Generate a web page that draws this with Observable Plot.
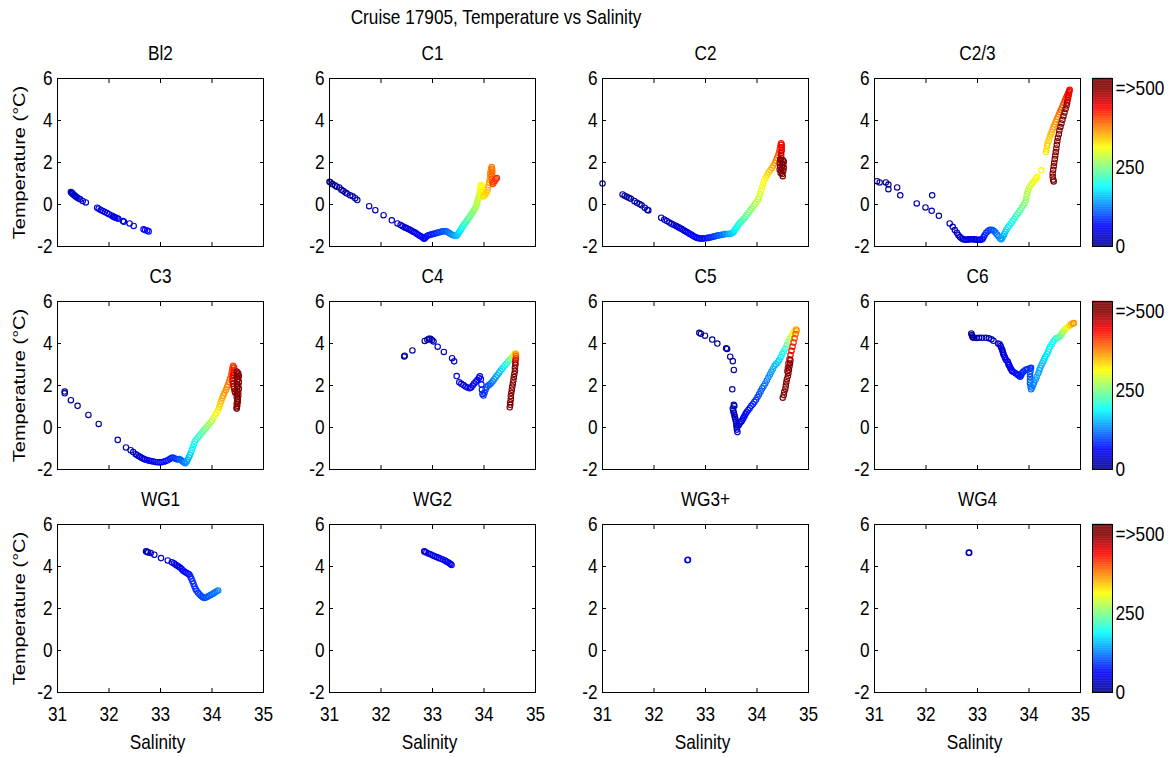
<!DOCTYPE html>
<html>
<head>
<meta charset="utf-8">
<script src="https://cdn.jsdelivr.net/npm/d3@7"></script>
<script src="https://cdn.jsdelivr.net/npm/@observablehq/plot@0.6"></script>
<style>
  html, body { margin: 0; padding: 0; background: #fff; }
  #chart { position: relative; width: 1173px; height: 757px; overflow: hidden; background: #fff;
           font-family: 'Liberation Sans', Arial, sans-serif; }
  #chart svg { position: absolute; overflow: visible; }
  #title { position: absolute; left: 0; top: 5px; width: 992px; text-align: center;
           font-size: 21px; line-height: 24px; color: #000; transform: scaleX(0.82); transform-origin: 496px 50%; }
</style>
</head>
<body>
<div id="chart"><div id="title">Cruise 17905, Temperature vs Salinity</div></div>
<script>
// ---------------- data: [salinity, temperature (°C), depth (m)] ----------------
const stations = ["Bl2", "C1", "C2", "C2/3", "C3", "C4", "C5", "C6", "WG1", "WG2", "WG3+", "WG4"];
const xTicks = [31, 32, 33, 34, 35];
const yTicks = [-2, 0, 2, 4, 6];
const depthTicks = [0, 250, 500];
const xLabel = "Salinity";
const yLabel = "Temperature (°C)";
const colorbarLabel = d => d === 500 ? "=>500" : String(d);

const bl2 = [[31.26,0.60,25],[31.27,0.57,26],[31.28,0.55,27],[31.29,0.52,28],[31.30,0.49,29],[31.32,0.45,30],[31.34,0.41,31],[31.36,0.37,32],[31.38,0.33,33],[31.41,0.29,34],[31.44,0.25,35],[31.49,0.17,36],[31.55,0.10,37],
 [31.77,-0.15,40],[31.80,-0.20,41],[31.84,-0.26,42],[31.88,-0.31,43],[31.92,-0.36,44],[31.96,-0.41,45],[32.00,-0.46,46],[32.05,-0.52,47],[32.08,-0.57,48],[32.10,-0.60,49],[32.12,-0.62,50],[32.15,-0.64,51],[32.18,-0.68,52],[32.27,-0.79,54],[32.29,-0.82,55],[32.40,-0.90,57],[32.48,-1.02,59],[32.67,-1.18,61],[32.70,-1.22,62],[32.74,-1.24,63],[32.77,-1.28,64]];

const c1 = [[31.00,1.08,2],[31.02,1.05,3],[31.06,0.97,4],[31.11,0.90,5],[31.14,0.85,6],[31.19,0.81,7],[31.23,0.70,8],[31.27,0.64,9],[31.31,0.57,10],[31.34,0.52,11],[31.40,0.44,12],[31.45,0.39,13],[31.50,0.30,14],[31.54,0.21,15],
 [31.77,-0.08,18],[31.89,-0.27,20],[32.05,-0.51,23],[32.21,-0.75,26],[32.32,-0.90,29],[32.38,-0.98,31],[32.42,-1.04,33],
 [32.46,-1.09,35],[32.49,-1.12,37],[32.52,-1.15,39],[32.55,-1.19,41],[32.58,-1.23,43],[32.61,-1.27,45],[32.64,-1.31,47],[32.67,-1.35,49],[32.70,-1.40,51],[32.73,-1.45,53],[32.76,-1.50,55],[32.79,-1.54,57],[32.82,-1.59,59],[32.84,-1.63,61],[32.86,-1.58,63],[32.88,-1.52,65],[32.91,-1.48,68],[32.94,-1.45,71],[32.97,-1.43,74],[33.00,-1.41,77],[33.03,-1.39,80],[33.06,-1.37,83],[33.09,-1.35,86],[33.12,-1.33,90],[33.15,-1.31,94],[33.18,-1.29,98],[33.21,-1.27,102],[33.24,-1.27,106],[33.27,-1.28,110],[33.30,-1.32,115],[33.33,-1.37,120],[33.36,-1.42,126],[33.39,-1.45,132],[33.42,-1.48,138],[33.45,-1.50,145],[33.47,-1.48,152],[33.49,-1.42,160],[33.51,-1.35,168],[33.53,-1.28,176],[33.55,-1.20,184],[33.57,-1.12,192],[33.59,-1.04,200],[33.61,-0.97,206],[33.63,-0.90,212],[33.65,-0.83,218],[33.67,-0.76,224],[33.69,-0.69,230],[33.71,-0.62,235],[33.73,-0.55,240],[33.75,-0.48,245],[33.77,-0.41,250],[33.79,-0.33,255],[33.81,-0.25,260],[33.83,-0.16,265],[33.85,-0.07,270],[33.86,0.02,274],[33.87,0.11,278],[33.88,0.20,282],[33.89,0.29,286],[33.90,0.38,290],
 [33.91,0.48,294],[33.92,0.58,298],[33.93,0.68,302],[33.93,0.78,305],[33.94,0.88,308],[33.95,0.93,310],[33.96,0.82,313],[33.97,0.70,316],[33.97,0.58,319],[33.98,0.46,322],[33.99,0.38,325],
 [34.01,0.42,328],[34.03,0.50,332],[34.05,0.58,336],[34.07,0.68,340],[34.08,0.80,345],[34.09,0.92,350],[34.10,1.05,354],[34.11,1.18,358],[34.12,1.32,362],[34.12,1.46,366],[34.13,1.58,370],[34.14,1.70,374],[34.15,1.78,378],[34.16,1.66,382],[34.16,1.52,386],[34.15,1.38,390],[34.15,1.22,394],[34.16,1.08,398],[34.17,0.98,402],[34.19,1.05,406],[34.21,1.12,410],[34.23,1.20,414],[34.25,1.26,418]];

const c2 = [[31.00,1.00,2],
 [31.39,0.48,6],[31.43,0.42,7],[31.47,0.37,8],[31.51,0.32,9],[31.55,0.27,10],[31.62,0.16,11],[31.67,0.08,12],[31.72,0.02,13],[31.76,-0.04,14],[31.82,-0.15,15],[31.87,-0.25,16],[31.89,-0.28,17],
 [32.14,-0.63,20],[32.20,-0.72,22],[32.25,-0.79,24],[32.30,-0.86,26],[32.34,-0.92,28],[32.38,-0.96,30],[32.42,-1.01,32],[32.45,-1.05,34],
 [32.48,-1.09,36],[32.51,-1.13,38],[32.54,-1.17,40],[32.57,-1.22,42],[32.60,-1.26,44],[32.63,-1.30,46],[32.66,-1.35,48],[32.69,-1.39,50],[32.72,-1.43,52],[32.75,-1.48,54],[32.78,-1.52,56],[32.81,-1.56,58],[32.84,-1.59,60],[32.87,-1.61,62],[32.90,-1.62,64],[32.93,-1.62,66],[32.96,-1.62,68],[32.99,-1.61,70],[33.02,-1.60,73],[33.05,-1.59,76],[33.08,-1.57,79],[33.11,-1.56,82],[33.14,-1.54,86],[33.17,-1.52,90],[33.20,-1.50,95],[33.23,-1.48,100],[33.26,-1.47,106],[33.29,-1.45,112],[33.32,-1.44,118],[33.35,-1.43,124],[33.38,-1.41,130],[33.41,-1.40,137],[33.44,-1.40,144],[33.47,-1.39,151],
 [33.50,-1.38,158],[33.53,-1.35,165],[33.55,-1.30,172],[33.57,-1.22,179],[33.59,-1.14,186],[33.61,-1.07,192],[33.63,-1.00,198],[33.65,-0.93,204],[33.67,-0.87,210],[33.69,-0.82,216],[33.72,-0.75,222],[33.75,-0.67,228],[33.78,-0.58,234],[33.81,-0.48,240],[33.84,-0.38,246],[33.87,-0.28,252],[33.90,-0.18,258],[33.93,-0.08,264],[33.96,0.02,270],[33.99,0.12,276],[34.02,0.24,282],[34.04,0.36,288],[34.06,0.50,294],[34.08,0.66,300],[34.10,0.82,305],[34.12,0.98,310],[34.14,1.14,315],[34.17,1.28,321],[34.20,1.42,327],[34.23,1.54,334],[34.26,1.64,341],[34.29,1.74,348],[34.32,1.86,356],[34.35,1.98,364],[34.37,2.10,372],[34.39,2.22,380],[34.41,2.35,388],[34.43,2.48,396],[34.44,2.60,404],[34.45,2.72,412],[34.46,2.84,420],[34.47,2.92,428],[34.48,2.85,436],[34.48,2.72,444],[34.48,2.58,452],[34.47,2.45,460],[34.47,2.32,468],
 [34.45,2.15,500],[34.47,2.10,505],[34.50,2.12,510],[34.52,2.05,515],[34.44,1.98,520],[34.48,1.95,525],[34.51,1.90,530],[34.45,1.80,535],[34.49,1.78,540],[34.52,1.75,545],[34.44,1.65,550],[34.47,1.62,555],[34.51,1.60,560],[34.46,1.50,565],[34.49,1.45,570],[34.50,1.35,575]];

const c23 = [[31.05,1.11,2],[31.10,1.05,3],[31.22,1.05,4],[31.27,0.95,5],[31.27,0.73,6],[31.44,0.81,7],[31.50,0.44,8],[31.82,0.05,10],[31.99,-0.14,12],[32.11,-0.30,14],[32.12,0.44,15],[32.25,-0.54,17],[32.46,-0.90,20],[32.52,-1.06,22],[32.56,-1.22,24],[32.60,-1.35,26],[32.63,-1.46,28],
 [32.66,-1.55,30],[32.69,-1.61,32],[32.72,-1.65,34],[32.75,-1.67,36],[32.78,-1.68,38],[32.81,-1.67,40],[32.84,-1.66,42],[32.87,-1.65,44],[32.90,-1.65,46],[32.93,-1.66,48],[32.96,-1.67,50],[32.99,-1.68,52],[33.02,-1.68,55],[33.05,-1.68,58],[33.08,-1.67,62],[33.10,-1.63,66],
 [33.12,-1.55,70],[33.14,-1.45,75],[33.17,-1.35,80],[33.20,-1.27,85],[33.23,-1.22,90],[33.26,-1.20,95],[33.29,-1.21,100],[33.32,-1.26,106],[33.35,-1.34,112],[33.38,-1.43,118],[33.41,-1.52,124],[33.44,-1.62,130],[33.46,-1.66,136],
 [33.48,-1.60,142],[33.50,-1.50,148],[33.52,-1.40,155],[33.54,-1.30,162],[33.56,-1.20,169],[33.59,-1.10,176],[33.62,-1.00,183],[33.65,-0.90,190],[33.68,-0.80,197],[33.71,-0.69,204],[33.74,-0.58,211],[33.77,-0.48,218],[33.80,-0.38,225],[33.83,-0.28,232],[33.86,-0.16,239],[33.89,-0.04,246],[33.92,0.08,253],[33.94,0.20,260],[33.95,0.35,266],[33.96,0.50,272],[33.98,0.64,278],[34.00,0.78,284],[34.03,0.90,290],[34.06,1.00,296],[34.09,1.10,301],[34.12,1.18,305],[34.14,1.25,308],[34.16,1.32,311],
 [34.24,1.63,318],
 [34.33,2.50,325],[34.34,2.62,328],[34.35,2.78,331],[34.36,2.90,334],[34.38,3.05,337],[34.40,3.20,340],[34.42,3.33,344],[34.44,3.45,348],[34.46,3.58,352],[34.48,3.70,356],[34.50,3.82,360],[34.52,3.94,364],[34.54,4.06,368],[34.56,4.17,372],[34.58,4.28,376],[34.60,4.39,380],[34.62,4.50,385],[34.64,4.61,390],[34.66,4.72,395],[34.68,4.84,400],[34.70,4.96,406],[34.72,5.08,412],[34.74,5.19,418],[34.76,5.30,424],[34.78,5.40,430],[34.79,5.46,436],[34.78,5.35,442],[34.77,5.22,448],[34.76,5.10,455],[34.75,4.98,462],[34.74,4.85,470],
 [34.73,4.72,500],[34.71,4.55,505],[34.69,4.38,510],[34.67,4.20,515],[34.65,4.03,520],[34.63,3.86,525],[34.61,3.69,530],[34.59,3.52,535],[34.58,3.35,540],[34.56,3.18,545],[34.55,3.01,550],[34.54,2.84,555],[34.53,2.67,560],[34.52,2.50,565],[34.51,2.33,570],[34.50,2.16,575],[34.49,1.99,580],[34.48,1.82,585],[34.47,1.65,590],[34.46,1.48,595],[34.46,1.32,600],[34.47,1.18,605],[34.48,1.10,610]];

const c3 = [[31.14,1.71,2],[31.14,1.63,3],[31.26,1.30,5],[31.39,1.03,7],[31.60,0.60,10],[31.80,0.17,13],[32.17,-0.59,18],[32.33,-0.95,22],[32.42,-1.08,25],[32.47,-1.17,28],[32.52,-1.27,31],
 [32.55,-1.32,33],[32.58,-1.37,35],[32.61,-1.41,37],[32.64,-1.45,39],[32.67,-1.49,41],[32.70,-1.52,43],[32.74,-1.55,45],[32.78,-1.58,47],[32.82,-1.60,49],[32.86,-1.62,51],[32.90,-1.64,53],[32.94,-1.65,55],[32.98,-1.66,57],[33.02,-1.65,60],[33.06,-1.63,63],[33.10,-1.60,66],[33.14,-1.56,70],[33.18,-1.50,74],[33.21,-1.45,78],[33.24,-1.43,82],[33.27,-1.46,86],[33.30,-1.50,90],[33.33,-1.52,95],[33.36,-1.50,100],[33.39,-1.54,106],[33.42,-1.60,112],[33.45,-1.66,118],[33.48,-1.70,125],
 [33.51,-1.62,135],[33.53,-1.52,145],[33.55,-1.42,155],[33.57,-1.32,163],[33.59,-1.20,171],[33.61,-1.06,180],[33.63,-0.92,186],[33.65,-0.78,192],[33.67,-0.66,198],[33.70,-0.56,205],[33.73,-0.47,212],[33.76,-0.38,219],[33.79,-0.29,226],[33.82,-0.20,233],[33.85,-0.11,240],[33.88,-0.03,247],[33.91,0.06,255],[33.94,0.15,263],[33.97,0.24,271],[34.00,0.32,280],[34.03,0.45,290],[34.06,0.58,300],[34.09,0.70,310],[34.12,0.84,320],[34.14,0.98,330],[34.16,1.12,338],[34.18,1.26,345],[34.20,1.40,352],[34.22,1.52,358],[34.24,1.64,363],[34.27,1.78,368],[34.29,1.92,372],[34.31,2.04,376],[34.33,2.18,380],[34.35,2.32,385],[34.37,2.46,390],[34.38,2.60,395],[34.39,2.72,400],[34.40,2.84,405],[34.41,2.94,410],
 [34.43,2.86,420],[34.43,2.74,428],[34.42,2.62,436],[34.41,2.50,442],[34.40,2.36,448],[34.40,2.22,454],[34.41,2.08,460],[34.42,1.95,466],[34.43,1.84,472],[34.44,1.74,478],[34.45,1.66,484],
 [34.48,2.66,500],[34.51,2.58,503],[34.49,2.52,506],[34.52,2.45,509],[34.48,2.40,512],[34.51,2.32,515],[34.49,2.24,518],[34.52,2.16,521],[34.48,2.08,524],[34.51,2.00,527],[34.49,1.92,530],[34.52,1.84,533],[34.48,1.76,536],[34.51,1.68,539],[34.49,1.60,542],[34.51,1.52,545],[34.48,1.44,548],[34.50,1.36,551],[34.49,1.28,554],[34.50,1.20,557],[34.48,1.12,560],[34.49,1.04,563],[34.48,0.96,566],[34.48,0.90,570]];

const c4 = [[32.45,3.38,2],[32.46,3.42,3],[32.61,3.67,6],[32.85,4.12,10],[32.90,4.18,12],[32.93,4.23,14],[32.96,4.22,16],[32.99,4.16,18],[33.02,4.10,20],[33.10,3.85,23],[33.22,3.60,26],[33.38,3.30,29],[33.42,3.15,31],[33.47,2.45,34],[33.52,2.15,37],[33.56,2.08,39],[33.60,2.02,41],[33.64,1.95,43],[33.68,1.90,45],[33.72,1.87,47],[33.75,1.90,49],[33.78,2.00,51],[33.81,2.10,53],[33.84,2.18,55],[33.87,2.26,57],[33.90,2.36,59],[33.92,2.44,61],[33.94,2.30,64],[33.95,2.05,68],[33.96,1.80,72],[33.97,1.60,76],[33.99,1.52,80],
 [34.01,1.65,85],[34.03,1.80,90],[34.05,1.92,96],[34.08,2.00,102],[34.11,2.05,108],[34.14,2.12,115],[34.17,2.20,122],[34.20,2.30,130],[34.23,2.40,138],[34.26,2.50,146],[34.29,2.60,154],[34.32,2.70,162],[34.35,2.78,170],[34.38,2.88,180],[34.41,2.97,192],[34.44,3.05,205],[34.47,3.14,220],[34.50,3.22,236],[34.53,3.30,252],[34.56,3.38,270],[34.58,3.44,290],[34.60,3.50,315],[34.61,3.52,340],[34.62,3.48,365],[34.62,3.40,390],[34.62,3.30,415],[34.61,3.20,440],[34.61,3.10,465],
 [34.61,3.00,500],[34.60,2.85,505],[34.60,2.70,510],[34.59,2.55,515],[34.58,2.40,520],[34.57,2.25,525],[34.56,2.10,530],[34.55,1.95,535],[34.54,1.80,540],[34.53,1.65,545],[34.52,1.50,550],[34.52,1.35,555],[34.51,1.20,560],[34.51,1.08,565],[34.50,0.96,570]];

const c5 = [[32.88,4.51,2],[32.91,4.46,3],[32.99,4.37,5],[33.13,4.19,7],[33.23,4.00,9],[33.40,3.77,11],[33.42,3.74,12],[33.48,3.37,14],[33.53,3.16,16],[33.55,2.74,18],[33.52,1.82,20],
 [33.55,1.08,22],[33.56,1.02,23],[33.53,0.90,24],[33.54,0.80,25],[33.55,0.70,26],[33.56,0.60,27],[33.57,0.50,28],[33.58,0.40,29],[33.59,0.30,30],[33.60,0.20,31],[33.60,0.10,32],[33.61,0.00,33],[33.61,-0.10,34],[33.62,-0.22,35],
 [33.64,0.10,38],[33.66,0.18,41],[33.68,0.25,44],[33.70,0.30,47],[33.72,0.38,50],[33.74,0.47,53],[33.76,0.56,56],[33.78,0.65,59],[33.80,0.74,62],[33.83,0.83,66],[33.86,0.93,70],[33.89,1.03,74],[33.92,1.12,78],[33.95,1.22,82],[33.98,1.32,86],[34.01,1.45,90],[34.04,1.58,95],[34.07,1.72,100],[34.10,1.86,105],[34.13,1.98,110],[34.16,2.10,115],[34.19,2.24,120],[34.22,2.38,126],[34.25,2.52,132],[34.28,2.66,138],[34.31,2.80,144],[34.34,2.94,150],[34.37,3.02,156],[34.40,3.10,162],[34.43,3.20,168],[34.46,3.35,175],[34.49,3.50,185],[34.52,3.62,195],[34.55,3.76,210],[34.58,3.92,230],[34.61,4.08,250],[34.64,4.22,270],[34.67,4.36,290],[34.70,4.48,310],[34.73,4.58,330],[34.76,4.66,350],[34.77,4.62,370],[34.75,4.45,390],[34.73,4.25,405],[34.71,4.05,420],[34.69,3.85,430],[34.67,3.65,440],[34.65,3.45,450],[34.63,3.25,460],[34.61,3.05,470],[34.60,2.85,480],[34.59,2.68,490],
 [34.65,3.20,500],[34.64,3.05,505],[34.63,2.90,510],[34.62,2.75,515],[34.61,2.60,520],[34.60,2.45,525],[34.58,2.30,530],[34.57,2.15,535],[34.56,2.00,540],[34.55,1.85,545],[34.53,1.70,550],[34.52,1.55,555],[34.50,1.42,560]];

const c6 = [[32.88,4.48,2],[32.89,4.40,4],[32.90,4.33,6],[32.91,4.29,8],[32.94,4.27,10],[32.98,4.26,12],[33.03,4.27,14],[33.09,4.27,16],[33.16,4.27,18],[33.22,4.25,20],[33.27,4.20,22],[33.31,4.13,25],
 [33.40,4.00,28],[33.43,3.96,30],[33.45,3.88,32],[33.46,3.80,34],[33.48,3.70,36],[33.49,3.61,38],[33.50,3.52,40],[33.51,3.45,42],[33.53,3.36,44],[33.54,3.29,46],[33.56,3.20,48],[33.59,3.13,50],[33.60,3.04,52],[33.61,2.97,54],[33.63,2.89,56],[33.64,2.82,58],[33.66,2.75,60],[33.67,2.69,62],[33.70,2.64,64],[33.74,2.58,66],[33.77,2.53,68],[33.79,2.50,70],[33.81,2.46,72],[33.83,2.42,74],[33.85,2.50,76],[33.86,2.58,78],[33.89,2.66,80],[33.93,2.74,82],[33.96,2.77,84],[33.99,2.78,86],[34.02,2.82,88],[34.04,2.84,90],[34.03,2.70,94],[34.02,2.55,98],[34.02,2.40,102],[34.02,2.25,106],[34.02,2.10,110],[34.03,1.95,114],[34.04,1.82,118],
 [34.06,1.90,122],[34.08,2.02,126],[34.10,2.14,130],[34.13,2.28,134],[34.15,2.42,138],[34.18,2.58,142],[34.20,2.72,146],[34.22,2.84,150],[34.24,2.96,154],[34.26,3.06,158],[34.28,3.16,162],[34.30,3.27,166],[34.32,3.38,170],[34.35,3.50,174],[34.37,3.62,178],[34.39,3.74,182],[34.41,3.84,186],[34.44,3.96,190],[34.47,4.08,195],[34.50,4.18,200],[34.53,4.25,208],[34.56,4.28,216],[34.59,4.32,226],[34.61,4.36,236],[34.63,4.44,248],[34.65,4.52,260],[34.67,4.58,272],[34.70,4.66,286],[34.73,4.74,300],[34.76,4.80,315],[34.79,4.86,330],[34.82,4.91,345],[34.85,4.95,358],[34.87,4.97,368]];

const wg1 = [[32.72,4.72,20],[32.74,4.70,22],[32.76,4.67,24],[32.81,4.64,27],[32.88,4.56,30],[33.01,4.40,34],[33.14,4.29,38],[33.22,4.20,42],[33.26,4.15,45],[33.29,4.10,48],[33.32,4.05,51],[33.35,4.00,54],[33.38,3.95,57],[33.41,3.88,60],[33.44,3.80,63],[33.47,3.75,66],[33.50,3.70,68],[33.53,3.66,70],[33.56,3.62,72],[33.58,3.52,74],[33.60,3.42,76],[33.62,3.30,78],[33.64,3.18,80],[33.66,3.05,82],[33.68,2.93,84],[33.70,2.84,86],[33.73,2.75,88],[33.76,2.67,90],[33.79,2.60,92],[33.82,2.54,95],[33.85,2.50,98],[33.88,2.52,101],[33.91,2.56,104],[33.94,2.60,107],[33.97,2.64,110],[34.00,2.68,113],[34.03,2.72,116],[34.06,2.77,119],[34.09,2.82,122],[34.12,2.86,125]];

const wg2 = [[32.84,4.72,40],[32.85,4.70,41],[32.88,4.67,42],[32.92,4.62,43],[32.96,4.58,44],[33.00,4.53,45],[33.04,4.49,46],[33.08,4.45,47],[33.12,4.41,48],[33.16,4.37,49],[33.20,4.33,50],[33.24,4.29,51],[33.27,4.24,52],[33.30,4.20,53],[33.33,4.15,54],[33.35,4.12,55],[33.37,4.07,56]];

const wg3p = [[32.65,4.30,55],[32.66,4.32,57]];

const wg4 = [[32.83,4.65,20],[32.84,4.66,22]];

const stationData = [bl2, c1, c2, c23, c3, c4, c5, c6, wg1, wg2, wg3p, wg4];

// ---------------- jet colour map for depth ----------------
const jetDomain = [0, 62.5, 187.5, 312.5, 437.5, 500];
const jetRange = ["#00008f", "#0000ff", "#00ffff", "#ffff00", "#ff0000", "#800000"];
const colorScale = {type: "linear", domain: jetDomain, range: jetRange, interpolate: "rgb", clamp: true};

// ---------------- layout ----------------
const FONT = "'Liberation Sans', Arial, sans-serif";
const boxLefts = [57, 329, 602, 874];
const boxTops = [78, 301, 524];
const boxW = 206, boxH = 168;
const cbLeft = 1092, cbW = 20;
const chart = document.getElementById("chart");
const numFmt = d => String(d);

// the reference's lettering is horizontally condensed (Helvetica Narrow look)
function condense(svg) {
  svg.querySelectorAll("text").forEach(t => {
    const rotated = t.closest(".ylabel");
    const tr = t.getAttribute("transform") || "";
    t.setAttribute("transform", tr + (rotated ? " scale(1,0.82)" : " scale(0.82,1)"));
  });
}

function place(svg, left, top) {
  condense(svg);
  svg.style.left = left + "px";
  svg.style.top = top + "px";
  chart.appendChild(svg);
}

stations.forEach((name, i) => {
  const col = i % 4, row = Math.floor(i / 4);
  const rows = stationData[i].map(([s, t, d]) => ({s, t, d}));
  const ML = 60, MR = 10, MT = 40, MB = row === 2 ? 65 : 10;
  const marks = [
    Plot.dot(rows, {x: "s", y: "t", stroke: "d", r: 2.7, strokeWidth: 1.15}),
    Plot.frame({stroke: "#000"}),
    Plot.axisY(yTicks, {anchor: "left", tickSize: -4, tickPadding: 9, tickFormat: numFmt, label: null}),
    Plot.axisY(yTicks, {anchor: "right", tickSize: -4, fill: "none", label: null}),
    Plot.axisX(xTicks, {anchor: "top", tickSize: -4, fill: "none", label: null}),
    row === 2
      ? Plot.axisX(xTicks, {anchor: "bottom", tickSize: -4, tickPadding: 18, tickFormat: numFmt, label: null})
      : Plot.axisX(xTicks, {anchor: "bottom", tickSize: -4, fill: "none", label: null}),
    Plot.text([name], {frameAnchor: "top", dy: -25, lineAnchor: "middle", text: d => d})
  ];
  if (col === 0) marks.push(Plot.text([yLabel], {frameAnchor: "left", dx: -38, rotate: -90, textAnchor: "middle", lineAnchor: "middle", fontSize: 20, text: d => d, className: "ylabel"}));
  if (row === 2) marks.push(Plot.text([xLabel], {frameAnchor: "bottom", dy: 50, dx: -3, lineAnchor: "middle", text: d => d}));
  const svg = Plot.plot({
    width: boxW + ML + MR, height: boxH + MT + MB,
    marginLeft: ML, marginRight: MR, marginTop: MT, marginBottom: MB,
    style: {fontFamily: FONT, fontSize: "21px", color: "#000", background: "none", overflow: "visible"},
    x: {domain: [31, 35]},
    y: {domain: [-2, 6]},
    color: colorScale,
    marks
  });
  place(svg, boxLefts[col] - ML, boxTops[row] - MT);
});

// colour bars, one per row
const cbSteps = d3.range(0, 530, 2);
boxTops.forEach(top => {
  const MT = 10, MB = 10, MR = 60;
  const svg = Plot.plot({
    width: cbW + MR, height: boxH + MT + MB,
    marginLeft: 0, marginRight: MR, marginTop: MT, marginBottom: MB,
    style: {fontFamily: FONT, fontSize: "21px", color: "#000", background: "none", overflow: "visible"},
    x: {domain: [0, 1], axis: null},
    y: {domain: [0, 530], axis: null},
    color: colorScale,
    marks: [
      Plot.rect(cbSteps, {x1: 0, x2: 1, y1: d => d, y2: d => d + 2.6, fill: d => d + 1}),
      Plot.frame({stroke: "#000"}),
      Plot.axisY(depthTicks, {anchor: "right", tickSize: 0, tickPadding: 3, tickFormat: colorbarLabel, label: null})
    ]
  });
  place(svg, cbLeft, top - MT);
});
</script>
</body>
</html>
